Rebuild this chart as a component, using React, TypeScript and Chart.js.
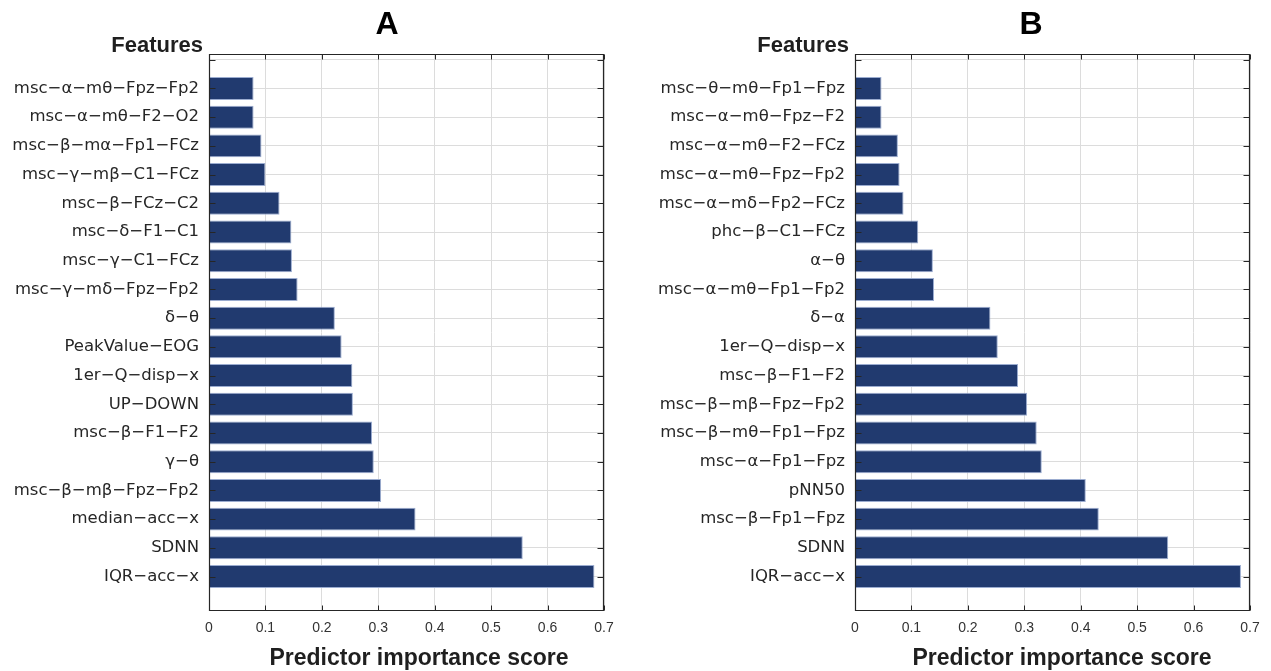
import React, { useEffect, useRef } from "react";
import { Chart, registerables } from "chart.js";

Chart.register(...registerables);

// ---------- Data ----------
const featuresA = [
  "msc-α-mθ-Fpz-Fp2",
  "msc-α-mθ-F2-O2",
  "msc-β-mα-Fp1-FCz",
  "msc-γ-mβ-C1-FCz",
  "msc-β-FCz-C2",
  "msc-δ-F1-C1",
  "msc-γ-C1-FCz",
  "msc-γ-mδ-Fpz-Fp2",
  "δ-θ",
  "PeakValue-EOG",
  "1er-Q-disp-x",
  "UP-DOWN",
  "msc-β-F1-F2",
  "γ-θ",
  "msc-β-mβ-Fpz-Fp2",
  "median-acc-x",
  "SDNN",
  "IQR-acc-x",
];
const scoresA = [
  0.079, 0.079, 0.093, 0.1, 0.125, 0.146, 0.147, 0.157, 0.223, 0.235, 0.254,
  0.255, 0.289, 0.292, 0.305, 0.366, 0.556, 0.683,
];

const featuresB = [
  "msc-θ-mθ-Fp1-Fpz",
  "msc-α-mθ-Fpz-F2",
  "msc-α-mθ-F2-FCz",
  "msc-α-mθ-Fpz-Fp2",
  "msc-α-mδ-Fp2-FCz",
  "phc-β-C1-FCz",
  "α-θ",
  "msc-α-mθ-Fp1-Fp2",
  "δ-α",
  "1er-Q-disp-x",
  "msc-β-F1-F2",
  "msc-β-mβ-Fpz-Fp2",
  "msc-β-mθ-Fp1-Fpz",
  "msc-α-Fp1-Fpz",
  "pNN50",
  "msc-β-Fp1-Fpz",
  "SDNN",
  "IQR-acc-x",
];
const scoresB = [
  0.047, 0.047, 0.076, 0.079, 0.086, 0.112, 0.138, 0.14, 0.24, 0.253, 0.289,
  0.305, 0.322, 0.331, 0.409, 0.432, 0.555, 0.684,
];

const xTicks = [0, 0.1, 0.2, 0.3, 0.4, 0.5, 0.6, 0.7];
const panelLetters = ["A", "B"];
const yAxisTitle = "Features";
const xAxisTitle = "Predictor importance score";

// ---------- Styling ----------
const BAR_FILL = "#213a6f";
const BAR_EDGE = "rgba(150,168,205,0.95)";
const GRID = "#dcdcdc";
const AXIS = "#262626";
const H = 671;
const TOP = 54;
const BOTTOM = 611;

const display = (s: string) => s.replace(/-/g, "\u2212");

type PanelProps = {
  features: string[];
  scores: number[];
  letter: string;
  canvasLeft: number;
  canvasWidth: number;
  plotLeft: number;
  plotRight: number;
  letterX: number;
  xTitleX: number;
};

function Panel(p: PanelProps) {
  const ref = useRef<HTMLCanvasElement | null>(null);

  useEffect(() => {
    if (!ref.current) return;
    const n = p.features.length;
    const yTickValues: number[] = [];
    for (let i = -1; i < n; i++) yTickValues.push(i);

    const decor = {
      id: "decor",
      afterDraw(chart: any) {
        const { ctx, chartArea } = chart;
        const { left, right, top, bottom } = chartArea;
        const xs = chart.scales.x;
        const ys = chart.scales.y;
        ctx.save();
        ctx.strokeStyle = AXIS;
        ctx.lineWidth = 1.2;
        const L = Math.round(left) + 0.5;
        const R = Math.round(right) - 0.5;
        const T = Math.round(top) + 0.5;
        const B = Math.round(bottom) - 0.5;
        ctx.beginPath();
        ctx.rect(L, T, R - L, B - T);
        ctx.stroke();
        ctx.lineWidth = 1;
        ctx.beginPath();
        xTicks.forEach((v) => {
          const px = Math.round(xs.getPixelForValue(v)) + 0.5;
          ctx.moveTo(px, T);
          ctx.lineTo(px, T + 5);
          ctx.moveTo(px, B);
          ctx.lineTo(px, B - 5);
        });
        yTickValues.forEach((v) => {
          const py = Math.round(ys.getPixelForValue(v)) + 0.5;
          ctx.moveTo(L, py);
          ctx.lineTo(L + 6, py);
          ctx.moveTo(R, py);
          ctx.lineTo(R - 6, py);
        });
        ctx.stroke();

        ctx.fillStyle = "#000";
        ctx.textAlign = "center";
        ctx.textBaseline = "alphabetic";
        ctx.font = "bold 32px 'Liberation Sans', Arial, sans-serif";
        ctx.fillText(p.letter, p.letterX, 34);

        ctx.fillStyle = "#1f1f1f";
        ctx.textAlign = "right";
        ctx.font = "bold 22px 'Liberation Sans', Arial, sans-serif";
        ctx.fillText(yAxisTitle, left - 6, 52);

        ctx.textAlign = "center";
        ctx.font = "bold 23px 'Liberation Sans', Arial, sans-serif";
        ctx.fillText(xAxisTitle, p.xTitleX, 665);
        ctx.restore();
      },
    };

    const chart = new Chart(ref.current, {
      type: "bar",
      data: {
        datasets: [
          {
            data: p.scores.map((v, i) => ({ x: v, y: i })),
            backgroundColor: BAR_FILL,
            borderColor: BAR_EDGE,
            borderWidth: 1,
            barPercentage: 0.8,
            categoryPercentage: 1,
          } as any,
        ],
      },
      options: {
        indexAxis: "y",
        animation: false,
        responsive: false,
        maintainAspectRatio: false,
        devicePixelRatio: 1,
        layout: {
          padding: {
            left: 0,
            top: TOP,
            right: p.canvasWidth - p.plotRight,
            bottom: 0,
          },
        },
        plugins: {
          legend: { display: false },
          tooltip: { enabled: false },
          title: { display: false },
        },
        scales: {
          x: {
            type: "linear",
            position: "bottom",
            min: 0,
            max: 0.7,
            offset: false,
            afterBuildTicks: (s: any) => {
              s.ticks = xTicks.map((v) => ({ value: v }));
            },
            afterFit: (s: any) => {
              s.height = H - BOTTOM;
            },
            ticks: {
              autoSkip: false,
              maxRotation: 0,
              padding: 9,
              color: "#333333",
              font: { family: "'Liberation Sans', Arial, sans-serif", size: 14 },
              callback: (v: any) => (Number(v) === 0 ? "0" : Number(v).toFixed(1)),
            },
            grid: { color: GRID, drawTicks: false, lineWidth: 1, offset: false },
            border: { display: false },
          },
          y: {
            type: "linear",
            reverse: true,
            min: -1.2,
            max: n - 1 + 1.2,
            offset: false,
            bounds: "data",
            grace: 0,
            afterBuildTicks: (s: any) => {
              s.ticks = yTickValues.map((v) => ({ value: v }));
            },
            afterFit: (s: any) => {
              s.width = p.plotLeft;
            },
            ticks: {
              autoSkip: false,
              padding: 10,
              color: AXIS,
              font: { family: "'DejaVu Sans', sans-serif", size: 16.5 },
              callback: (v: any) => {
                const idx = Number(v);
                return idx >= 0 && idx < n ? display(p.features[idx]) : "";
              },
            },
            grid: { color: GRID, drawTicks: false, lineWidth: 1, offset: false },
            border: { display: false },
          },
        },
      } as any,
      plugins: [decor],
    });
    return () => chart.destroy();
  }, []);

  return (
    <canvas
      ref={ref}
      width={p.canvasWidth}
      height={H}
      style={{
        position: "absolute",
        left: p.canvasLeft,
        top: 0,
        width: p.canvasWidth,
        height: H,
      }}
    />
  );
}

export default function App() {
  return (
    <div
      style={{
        position: "absolute",
        left: 0,
        top: 0,
        width: 1271,
        height: H,
        background: "#ffffff",
        overflow: "hidden",
      }}
    >
      <Panel
        features={featuresA}
        scores={scoresA}
        letter={panelLetters[0]}
        canvasLeft={0}
        canvasWidth={635}
        plotLeft={209}
        plotRight={604}
        letterX={387}
        xTitleX={419}
      />
      <Panel
        features={featuresB}
        scores={scoresB}
        letter={panelLetters[1]}
        canvasLeft={635}
        canvasWidth={636}
        plotLeft={220}
        plotRight={615}
        letterX={396}
        xTitleX={427}
      />
    </div>
  );
}
